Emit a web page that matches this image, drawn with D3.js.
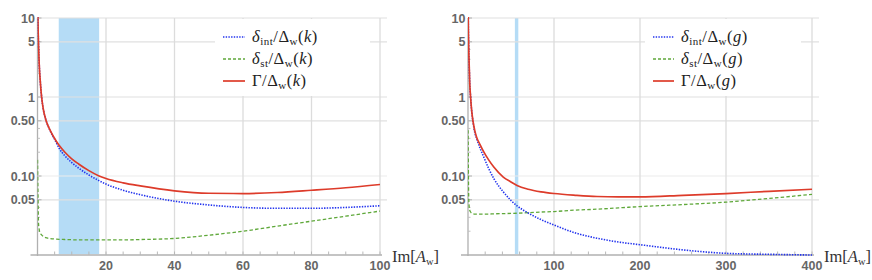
<!DOCTYPE html>
<html><head><meta charset="utf-8">
<script src="https://cdn.jsdelivr.net/npm/d3@7"></script>
<style>body{margin:0;background:#fff}svg{display:block}</style>
</head><body>
<script>
// ---- data: panel k ----
const kX     = [0.02,0.1,0.2,0.3,0.5,0.8,1.2,1.7,2.4,3,3.8,5.4,6.3,8,10,12,15,17.8,20,25,30,40,50,60,70,80,90,100];
const kGamma = [40,12,6.5,4.5,2.6,1.6,1.0,0.7,0.52,0.44,0.37,0.28,0.245,0.2,0.165,0.142,0.117,0.101,0.093,0.082,0.075,0.065,0.0605,0.0600,0.0618,0.066,0.071,0.078];
const kInt   = [40,12,6.5,4.5,2.6,1.6,1.0,0.7,0.52,0.44,0.365,0.27,0.225,0.18,0.148,0.126,0.103,0.088,0.079,0.066,0.058,0.048,0.043,0.040,0.039,0.039,0.040,0.042];
const kSt    = [0.16,0.08,0.04,0.025,0.021,0.019,0.018,0.0172,0.0166,0.0163,0.0161,0.0159,0.0158,0.0157,0.0156,0.0155,0.0155,0.0155,0.0155,0.0155,0.0157,0.0162,0.0178,0.020,0.0232,0.0268,0.031,0.036];
const kBand  = [6.2, 18];
const kTicks = [20,40,60,80,100];
// ---- data: panel g ----
const gX     = [0.1,0.3,0.5,0.8,1.2,2,3,4,6,8,10,14,18,24,30,41,50,57,70,85,100,125,150,175,200,250,300,350,400];
const gGamma = [30,10,6.5,4.3,2.9,1.5,1.0,0.72,0.48,0.37,0.31,0.25,0.205,0.16,0.13,0.097,0.084,0.076,0.068,0.063,0.060,0.057,0.055,0.0545,0.0545,0.057,0.060,0.064,0.068];
const gInt   = [30,10,6.5,4.3,2.9,1.5,1.0,0.72,0.47,0.35,0.30,0.225,0.177,0.125,0.093,0.063,0.049,0.042,0.034,0.028,0.024,0.019,0.0163,0.0146,0.0135,0.0116,0.0105,0.0102,0.0100];
const gSt    = [0.38,0.2,0.1,0.055,0.043,0.037,0.035,0.034,0.0333,0.033,0.033,0.033,0.033,0.033,0.0332,0.0334,0.0336,0.0338,0.0343,0.035,0.0355,0.037,0.038,0.0395,0.041,0.0435,0.0467,0.052,0.0585];
const gBand  = [54.5, 58.5];
const gTicks = [100,200,300,400];
// ---- shared ----
const yTickVals = [10,5,1,0.5,0.1,0.05];
const yTickLabels = ["10","5","1","0.50","0.10","0.05"];
const yMinor = [0.02,0.03,0.04,0.2,0.3,0.4,2,3,4];

const W=872,H=280;
const svg=d3.select("body").append("svg").attr("width",W).attr("height",H);
const y=d3.scaleLog().domain([0.01,10]).range([255,18]);

const COL={int:"#2233ee",st:"#5fa83a",gam:"#dd3b2a"};
const SERIF="Liberation Serif, Times New Roman, serif";

function panel(o){
  const x=d3.scaleLinear().domain([0,o.xmax]).range([o.x0,o.x1]);
  const g=svg.append("g");
  const id="clip"+o.name;
  svg.append("clipPath").attr("id",id).append("rect")
    .attr("x",o.x0).attr("y",17).attr("width",o.x1-o.x0+2).attr("height",240);
  // band
  g.append("rect").attr("x",x(o.band[0])).attr("y",18)
    .attr("width",x(o.band[1])-x(o.band[0])).attr("height",236)
    .attr("fill","#b5dcf6");
  // grid
  g.selectAll(".hg").data(yTickVals).join("line")
    .attr("x1",o.x0).attr("x2",o.x1+7).attr("y1",d=>y(d)).attr("y2",d=>y(d))
    .attr("stroke",d=>d===0.1?"#ececec":"#e0e0e0").attr("stroke-width",1.2);
  g.selectAll(".vg").data(o.ticks).join("line")
    .attr("x1",d=>x(d)).attr("x2",d=>x(d)).attr("y1",18).attr("y2",255)
    .attr("stroke","#dcdcdc").attr("stroke-width",1.3);
  // legend box (covers grid)
  g.append("rect").attr("x",o.lx-8).attr("y",19).attr("width",o.lw).attr("height",77).attr("fill","#fff");
  // axes
  g.append("line").attr("x1",o.x0-7).attr("x2",o.x1+2).attr("y1",255).attr("y2",255)
    .attr("stroke","#b0b0b0").attr("stroke-width",1.3);
  g.append("line").attr("x1",o.x0).attr("x2",o.x0).attr("y1",18).attr("y2",256)
    .attr("stroke","#b0b0b0").attr("stroke-width",1.3);
  // minor x ticks
  g.selectAll(".mx").data(d3.range(o.minor,o.xmax+0.001,o.minor)).join("line")
    .attr("x1",d=>x(d)).attr("x2",d=>x(d)).attr("y1",255).attr("y2",251.5)
    .attr("stroke","#b8b8b8").attr("stroke-width",1);
  g.selectAll(".my").data(yMinor).join("line")
    .attr("x1",o.x0).attr("x2",o.x0+2.5).attr("y1",d=>y(d)).attr("y2",d=>y(d))
    .attr("stroke","#c0c0c0").attr("stroke-width",1);
  g.selectAll(".My").data(yTickVals).join("line")
    .attr("x1",o.x0).attr("x2",o.x0+4).attr("y1",d=>y(d)).attr("y2",d=>y(d))
    .attr("stroke","#b0b0b0").attr("stroke-width",1);
  // tick labels
  g.selectAll(".yl").data(yTickVals).join("text")
    .attr("x",o.x0-2.5).attr("y",d=>y(d)+4.5).attr("text-anchor","end")
    .attr("font-family","Liberation Sans, Arial, sans-serif").attr("font-weight","bold")
    .attr("font-size",12.5).attr("fill","#666").text((d,i)=>yTickLabels[i]);
  g.selectAll(".xl").data(o.ticks).join("text")
    .attr("x",d=>x(d)).attr("y",270).attr("text-anchor","middle")
    .attr("font-family","Liberation Sans, Arial, sans-serif").attr("font-weight","bold")
    .attr("font-size",12.5).attr("fill","#666").text(d=>d);
  // axis label
  const al=g.append("text").attr("x",o.x1+12).attr("y",262)
    .attr("font-family",SERIF).attr("font-size",16.5).attr("fill","#333");
  al.append("tspan").text("Im[");
  al.append("tspan").attr("font-style","italic").text("A");
  al.append("tspan").attr("font-size",10.5).attr("dy",3).text("w");
  al.append("tspan").attr("dy",-3).text("]");
  // curves
  const line=d3.line().x(d=>x(d[0])).y(d=>y(d[1])).curve(d3.curveMonotoneX);
  const cg=g.append("g").attr("clip-path",`url(#${id})`);
  const series=[
    {v:o.st,c:COL.st,dash:"3.5,2.2",w:1.3},
    {v:o.int,c:COL.int,dash:"1.4,1.3",w:1.6},
    {v:o.gam,c:COL.gam,dash:null,w:1.7}
  ];
  series.forEach(s=>{
    cg.append("path").datum(o.xs.map((xx,i)=>[xx,s.v[i]]))
      .attr("d",line).attr("fill","none").attr("stroke",s.c)
      .attr("stroke-width",s.w).attr("stroke-dasharray",s.dash);
  });
  // legend
  const rows=[
    {c:COL.int,dash:"1.4,1.3",w:1.3,sub:"int",sym:"δ",it:true},
    {c:COL.st,dash:"3,2",w:1.3,sub:"st",sym:"δ",it:true},
    {c:COL.gam,dash:null,w:1.7,sub:null,sym:"Γ",it:false}
  ];
  rows.forEach((r,i)=>{
    const yy=37+i*22;
    g.append("line").attr("x1",o.lx).attr("x2",o.lx+o.ls).attr("y1",yy).attr("y2",yy)
      .attr("stroke",r.c).attr("stroke-width",r.w).attr("stroke-dasharray",r.dash);
    const t=g.append("text").attr("x",o.lx+o.ls+7).attr("y",yy+5)
      .attr("font-family",SERIF).attr("font-size",16.5).attr("letter-spacing",0.5).attr("fill","#222");
    t.append("tspan").attr("font-style",r.it?"italic":"normal").text(r.sym);
    if(r.sub){ t.append("tspan").attr("font-size",11).attr("dy",3).text(r.sub); t.append("tspan").attr("dy",-3).text("/Δ"); }
    else t.append("tspan").text("/Δ");
    t.append("tspan").attr("font-size",11).attr("dy",3).text("w");
    t.append("tspan").attr("dy",-3).text("(");
    t.append("tspan").attr("font-style","italic").text(o.name);
    t.append("tspan").text(")");
  });
}

panel({name:"k",xmax:100,x0:37.5,x1:380,xs:kX,gam:kGamma,int:kInt,st:kSt,band:kBand,ticks:kTicks,minor:5,lx:223,ls:22,lw:155});
panel({name:"g",xmax:400,x0:468,x1:812,xs:gX,gam:gGamma,int:gInt,st:gSt,band:gBand,ticks:gTicks,minor:20,lx:653,ls:21,lw:156});
</script>
</body></html>
